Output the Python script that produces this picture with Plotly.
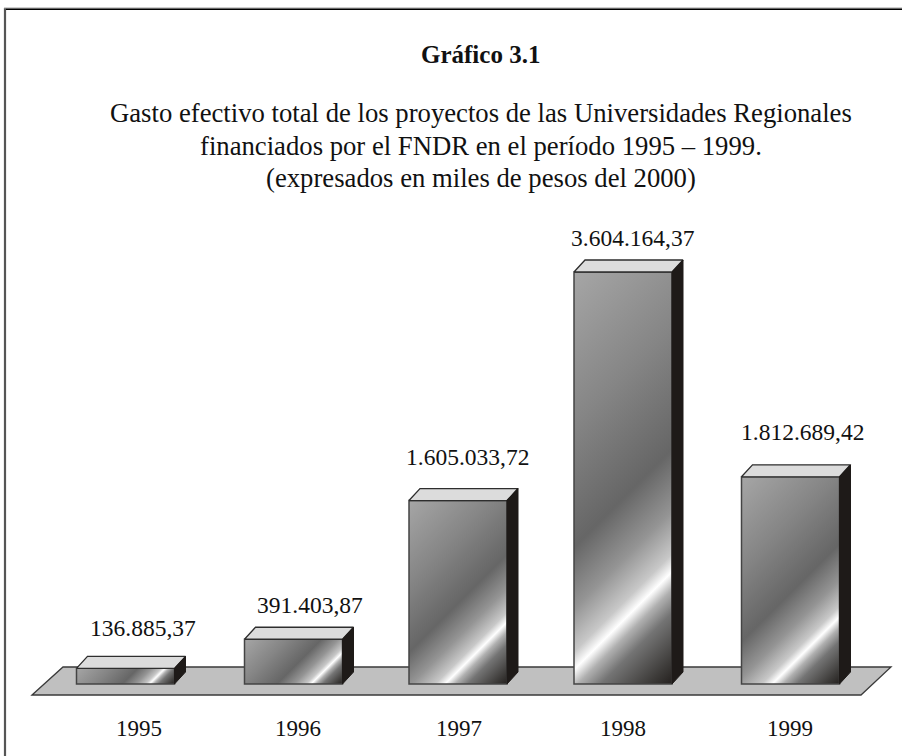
import json
import plotly.graph_objects as go

years = [1995, 1996, 1997, 1998, 1999]
gasto = [136885.37, 391403.87, 1605033.72, 3604164.37, 1812689.42]
gasto_labels = ["136.885,37", "391.403,87", "1.605.033,72", "3.604.164,37", "1.812.689,42"]
year_labels = ["1995", "1996", "1997", "1998", "1999"]

titulo = "<b>Gráfico 3.1</b>"
subtitulo = [
    "Gasto efectivo total de los proyectos de las Universidades Regionales",
    "financiados por el FNDR en el período 1995 – 1999.",
    "(expresados en miles de pesos del 2000)",
]

# ---- layout / style constants (pixels) ----
W, H = 902, 756
PLOT_BOTTOM = 700
BASE_PX = 684
PX_PER_X = 166.0
X0_PX = 125.0
K = 8748.0  # value units per pixel
FONT = "Liberation Serif"
bar_px = [125.5, 293.5, 458, 623, 790.5]
tick_px = [139, 298, 459, 623, 790]
label_px = [143, 310, 467, 633, 802]
label_gap = [40, 34, 44, 34, 45]
BAR_W_PX = 98
DX_PX, DY_PX = 11, 12


def px2x(p):
    return 1995 + (p - X0_PX) / PX_PER_X


def dy(p):
    return p * K


bar_x = [px2x(p) for p in bar_px]
half = BAR_W_PX / 2 / PX_PER_X
ddx = DX_PX / PX_PER_X
ddy = dy(DY_PX)

fig = go.Figure()

fig.add_trace(go.Bar(
    x=bar_x, y=gasto, width=BAR_W_PX / PX_PER_X,
    marker=dict(color="#808080", line=dict(color="#444444", width=1.5)),
    hoverinfo="skip",
))

for x, v in zip(bar_x, gasto):
    # top face
    fig.add_trace(go.Scatter(
        x=[x - half, x - half + ddx, x + half + ddx, x + half, x - half],
        y=[v, v + ddy, v + ddy, v, v],
        mode="lines", fill="toself", fillcolor="#dcdcdc",
        line=dict(color="#2e2e2e", width=1.3), hoverinfo="skip",
    ))
    # side face
    fig.add_trace(go.Scatter(
        x=[x + half, x + half + ddx, x + half + ddx, x + half, x + half],
        y=[0, ddy, v + ddy, v, 0],
        mode="lines", fill="toself", fillcolor="#1e1a18",
        line=dict(color="#1e1a18", width=1), hoverinfo="skip",
    ))

annotations = []
for x, v, txt, lp, gap in zip(bar_x, gasto, gasto_labels, label_px, label_gap):
    annotations.append(dict(
        x=px2x(lp), y=v + dy(gap), xref="x", yref="y", text=txt, showarrow=False,
        font=dict(family=FONT, size=23.5, color="#111111"),
        xanchor="center", yanchor="middle",
    ))


def py(p):
    return 1 - p / PLOT_BOTTOM


annotations.append(dict(x=481 / W, xref="paper", xanchor="center", y=py(54), yref="paper", yanchor="middle",
                        text=titulo, showarrow=False,
                        font=dict(family=FONT, size=25, color="#111111")))
for line, p in zip(subtitulo, [113, 146, 178]):
    annotations.append(dict(x=481 / W, xref="paper", xanchor="center", y=py(p), yref="paper", yanchor="middle",
                            text=line, showarrow=False,
                            font=dict(family=FONT, size=26.7, color="#111111")))

shapes = [
    dict(type="path", layer="below", xref="x", yref="y",
         path="M {a},{b} L {c},{d} L {e},{d} L {f},{b} Z".format(
             a=px2x(32), b=dy(-11), c=px2x(63), d=dy(17), e=px2x(891), f=px2x(861)),
         fillcolor="#c0c0c0", line=dict(color="#3a3a3a", width=1.3)),
    # frame: only its left and top edges are inside the picture
    dict(type="line", xref="paper", yref="paper", layer="below",
         x0=5 / W, x1=5 / W, y0=py(756), y1=py(8),
         line=dict(color="#555555", width=2.2)),
    dict(type="line", xref="paper", yref="paper", layer="below",
         x0=4 / W, x1=1, y0=py(8), y1=py(8),
         line=dict(color="#a0a0a0", width=1)),
    dict(type="line", xref="paper", yref="paper", layer="below",
         x0=6 / W, x1=1, y0=py(9.2), y1=py(9.2),
         line=dict(color="#000000", width=1.4)),
]

fig.update_layout(
    width=W, height=H, autosize=False,
    margin=dict(l=0, r=0, t=0, b=H - PLOT_BOTTOM, pad=0),
    paper_bgcolor="white", plot_bgcolor="white",
    showlegend=False, hovermode=False,
    annotations=annotations, shapes=shapes,
    xaxis=dict(range=[px2x(0), px2x(W)], tickmode="array",
               tickvals=[px2x(p) for p in tick_px], ticktext=year_labels,
               ticks="outside", ticklen=7, tickcolor="rgba(0,0,0,0)",
               showgrid=False, zeroline=False, showline=False,
               tickfont=dict(family=FONT, size=23, color="#111111")),
    yaxis=dict(range=[dy(BASE_PX - PLOT_BOTTOM), dy(BASE_PX)], visible=False,
               showgrid=False, zeroline=False),
)

stops = [
    [0.00, "#a6a6a6"], [0.30, "#858585"], [0.54, "#666666"], [0.66, "#949494"],
    [0.745, "#c8c8c8"], [0.78, "#ffffff"], [0.815, "#b0b0b0"], [0.86, "#747474"],
    [0.955, "#3c3a38"], [1.00, "#24201e"],
]

post = """
document.body.style.margin = '0';
document.documentElement.style.overflow = 'hidden';
var gd = document.getElementById('{plot_id}');
var stops = %s;
var NS = 'http://www.w3.org/2000/svg';
var svg = gd.querySelector('svg.main-svg');
var defs = document.createElementNS(NS, 'defs');
svg.insertBefore(defs, svg.firstChild);
gd.querySelectorAll('.barlayer .point path').forEach(function (p, i) {
  var b = p.getBBox();
  var s = (b.width + b.height) / 2;
  var g = document.createElementNS(NS, 'linearGradient');
  g.setAttribute('id', 'metal' + i);
  g.setAttribute('gradientUnits', 'userSpaceOnUse');
  g.setAttribute('x1', b.x); g.setAttribute('y1', b.y);
  g.setAttribute('x2', b.x + s); g.setAttribute('y2', b.y + s);
  stops.forEach(function (st) {
    var e = document.createElementNS(NS, 'stop');
    e.setAttribute('offset', st[0]);
    e.setAttribute('stop-color', st[1]);
    g.appendChild(e);
  });
  defs.appendChild(g);
  p.style.fill = 'url(#metal' + i + ')';
  p.style.fillOpacity = 1;
});
""" % json.dumps(stops)

fig.write_html("out.html", post_script=post, config={"displayModeBar": False})
